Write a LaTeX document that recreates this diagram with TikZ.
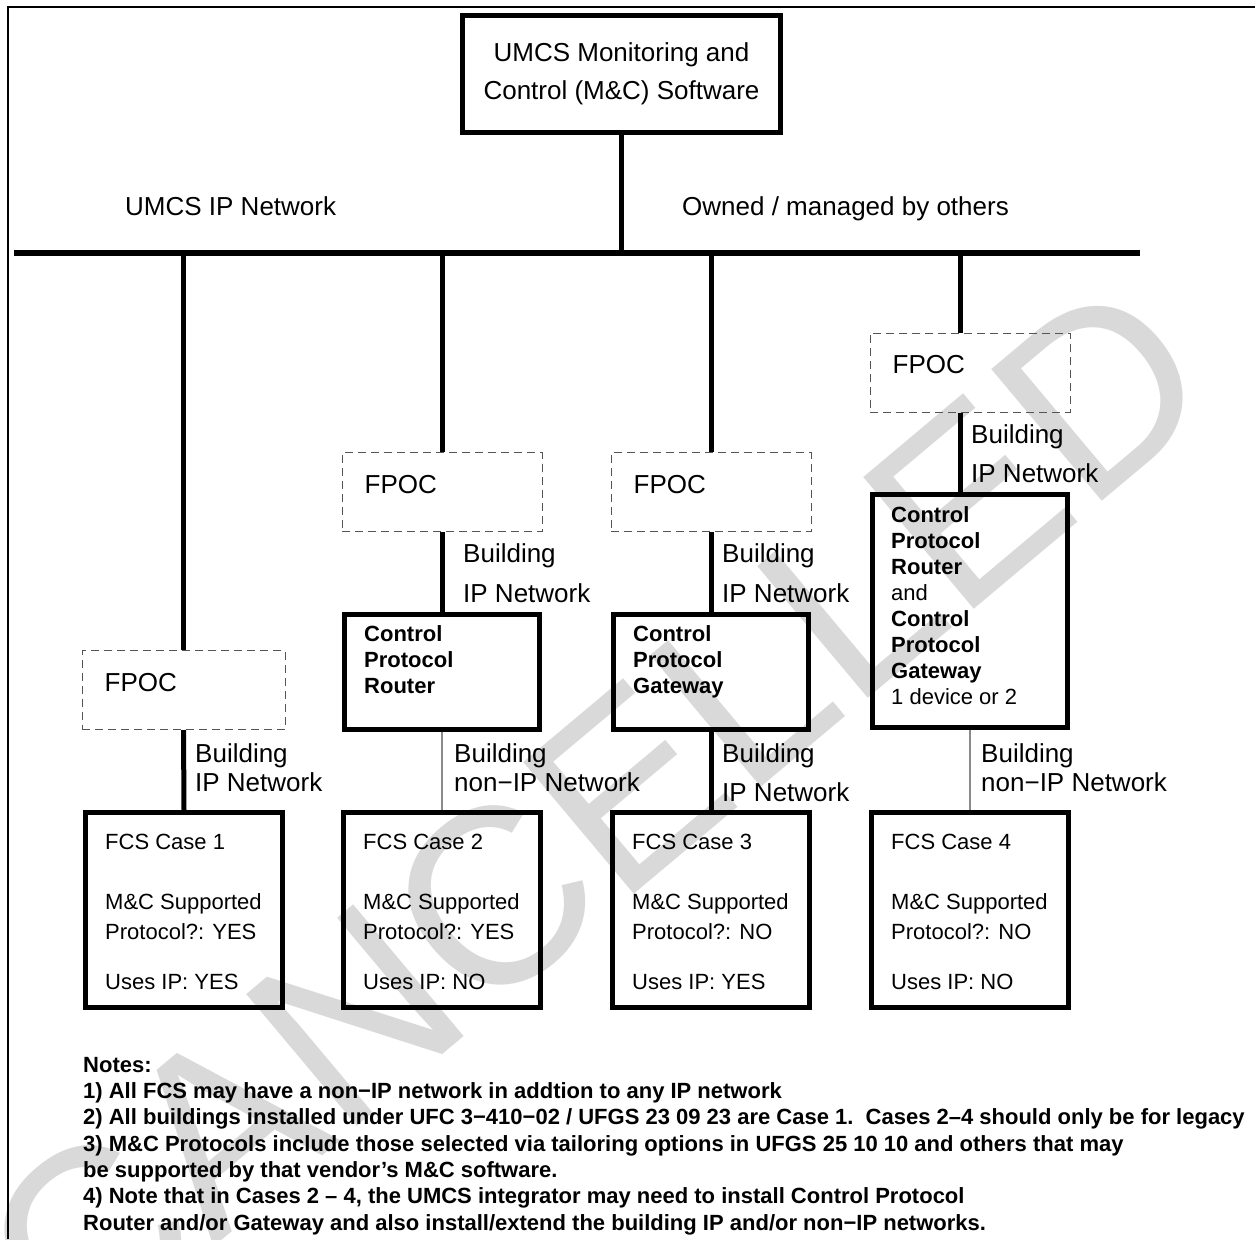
\documentclass[tikz,border=0pt]{standalone}
\usepackage{fontspec}
\setmainfont{Liberation Sans}
\usetikzlibrary{positioning}
\definecolor{StampGray}{HTML}{D9D9D9}
\definecolor{DashGray}{HTML}{555555}
\definecolor{WireGray}{HTML}{8A8A8A}

\tikzset{
  swbox/.style={draw, line width=5pt, minimum width=318pt, minimum height=117pt,
    align=center, font=\fontsize{26}{38}\selectfont},
  fpocbox/.style={draw=DashGray, line width=1pt, dash pattern=on 8pt off 5pt,
    minimum width=200pt, minimum height=79pt, inner sep=0pt},
  devbox/.style={draw, line width=5pt, minimum width=195pt, inner sep=0pt},
  fcsbox/.style={draw, line width=5pt, minimum width=197pt, minimum height=195pt,
    inner sep=0pt},
  plain/.style={inner sep=0pt, align=left, font=\fontsize{26}{29}\selectfont},
  fcstext/.style={inner sep=0pt, align=left, font=\fontsize{22}{30}\selectfont},
  devtext/.style={inner sep=0pt, align=left, font=\fontsize{22}{26}\selectfont},
  ipwire/.style={line width=5pt},
  nonipwire/.style={line width=1.3pt, WireGray},
}

\begin{document}
\begin{tikzpicture}[x=1pt, y=-1pt]
    \useasboundingbox (0,0) rectangle (1255,1239);
    % stamp
    \node[rotate=40, text=StampGray, font=\fontsize{250}{250}\selectfont]
    (stamp) at (595,815) {CANCELLED};
    % frame
    \draw[line width=2pt] (8,1239) -- (8,7) -- (1255,7);
    % software and bus
    \node[swbox] (sw) at (621.5,74) {UMCS Monitoring and\\Control (M\&C) Software};
    \coordinate (busL) at (14,253);
    \coordinate (busR) at (1140,253);
    \draw[line width=6pt] (busL) -- (busR);
    \draw[ipwire] (sw.south) -- (sw.south |- busL);
    \node[plain, anchor=north west] (ownlbl) at (125,196) {UMCS IP Network};
    \node[plain, anchor=north west] (othlbl) at (682,196) {Owned / managed by others};
    % FPOCs
    \node[fpocbox, minimum width=203pt] (fpoc1) at (183.5,690) {};
    \node[fpocbox] (fpoc2) at (442,492) {};
    \node[fpocbox] (fpoc3) at (711,492) {};
    \node[fpocbox] (fpoc4) at (970,372.5) {};
    \foreach \n in {1,...,4}
      \node[plain, below right=23pt and 23pt of fpoc\n.north west] (fpoc\n t) {FPOC};
    % routers and gateways
    \node[devbox, minimum height=115pt] (router) at (442,672) {};
    \node[devbox, minimum height=115pt] (gateway) at (711,672) {};
    \node[devbox, minimum height=233pt] (rg) at (970,611) {};
    \node[devtext, below right=13pt and 22pt of router.north west] (routert)
    {\bfseries Control\\\bfseries Protocol\\\bfseries Router};
    \node[devtext, below right=13pt and 22pt of gateway.north west] (gatewayt)
    {\bfseries Control\\\bfseries Protocol\\\bfseries Gateway};
    \node[devtext, below right=14pt and 21pt of rg.north west] (rgt)
    {\bfseries Control\\\bfseries Protocol\\\bfseries Router\\and\\
     \bfseries Control\\\bfseries Protocol\\\bfseries Gateway\\1 device or 2};
    % FCS boxes
    \node[fcsbox] (fcs1) at (184,910) {};
    \node[fcsbox] (fcs2) at (442,910) {};
    \node[fcsbox] (fcs3) at (711,910) {};
    \node[fcsbox] (fcs4) at (970,910) {};
    \node[fcstext, below right=24pt and 22pt of fcs1.north west] (fcs1t)
    {FCS Case 1\\[30pt]M\&C Supported\\Protocol?: YES\\[20pt]Uses IP: YES};
    \node[fcstext, below right=24pt and 22pt of fcs2.north west] (fcs2t)
    {FCS Case 2\\[30pt]M\&C Supported\\Protocol?: YES\\[20pt]Uses IP: NO};
    \node[fcstext, below right=24pt and 22pt of fcs3.north west] (fcs3t)
    {FCS Case 3\\[30pt]M\&C Supported\\Protocol?: NO\\[20pt]Uses IP: YES};
    \node[fcstext, below right=24pt and 22pt of fcs4.north west] (fcs4t)
    {FCS Case 4\\[30pt]M\&C Supported\\Protocol?: NO\\[20pt]Uses IP: NO};
    % wires
    \draw[ipwire] (fpoc1.north |- busL) -- (fpoc1.north);
    \draw[ipwire] (fpoc2.north |- busL) -- (fpoc2.north);
    \draw[ipwire] (fpoc3.north |- busL) -- (fpoc3.north);
    \draw[ipwire] ([xshift=-10pt]fpoc4.north |- busL) -- ([xshift=-10pt]fpoc4.north);
    \draw[ipwire] (fpoc1.south) -- (fcs1.north);
    \draw[ipwire] (fpoc2.south) -- (router.north);
    \draw[ipwire] (fpoc3.south) -- (gateway.north);
    \draw[ipwire] ([xshift=-10pt]fpoc4.south) -- ([xshift=-10pt]rg.north);
    \draw[nonipwire] (router.south) -- (fcs2.north);
    \draw[ipwire] (gateway.south) -- (fcs3.north);
    \draw[nonipwire] (rg.south) -- (fcs4.north);
    % wire labels
    \node[plain, anchor=north west] (w1) at (195,743) {Building\\IP Network};
    \node[plain, anchor=north west] (w2a) at (463,543) {Building\\[11pt]IP Network};
    \node[plain, anchor=north west] (w2b) at (454,743) {Building\\non−IP Network};
    \node[plain, anchor=north west] (w3a) at (722,543) {Building\\[11pt]IP Network};
    \node[plain, anchor=north west] (w3b) at (722,743) {Building\\[10pt]IP Network};
    \node[plain, anchor=north west] (w4a) at (971,424) {Building\\[10pt]IP Network};
    \node[plain, anchor=north west] (w4b) at (981,743) {Building\\non−IP Network};
    % notes
    \node[inner sep=0pt, align=left, anchor=north west,
      font=\fontsize{22}{26.3}\selectfont\bfseries] (notes) at (83,1057)
    {Notes:\\
     1) All FCS may have a non−IP network in addtion to any IP network\\
     2) All buildings installed under UFC 3−410−02 / UFGS 23 09 23 are Case 1.\ \ Cases 2–4 should only be for legacy\\
     3) M\&C Protocols include those selected via tailoring options in UFGS 25 10 10 and others that may\\
     be supported by that vendor’s M\&C software.\\
     4) Note that in Cases 2 – 4, the UMCS integrator may need to install Control Protocol\\
     Router and/or Gateway and also install/extend the building IP and/or non−IP networks.};
\end{tikzpicture}
\end{document}
